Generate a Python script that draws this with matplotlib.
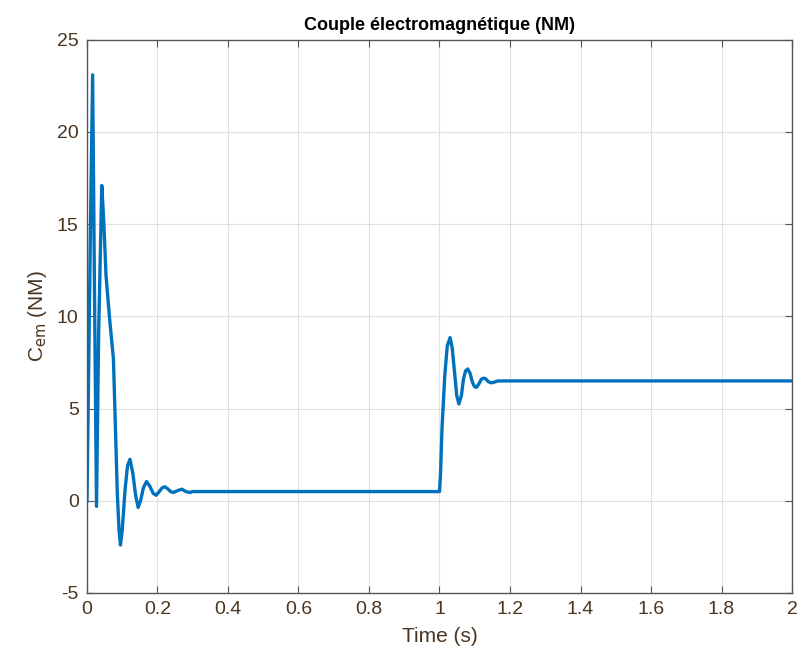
import numpy as np
import matplotlib.pyplot as plt

# Electromagnetic torque trace, key points
t = [0.0, 0.004, 0.010, 0.016, 0.021, 0.027, 0.033, 0.042, 0.048, 0.054, 0.065,
     0.075, 0.082, 0.086, 0.091, 0.095, 0.100, 0.108, 0.115, 0.122, 0.130, 0.138,
     0.145, 0.152, 0.160, 0.169, 0.178, 0.188, 0.196, 0.205, 0.213, 0.221, 0.229,
     0.237, 0.245, 0.257, 0.269, 0.280, 0.292, 0.30,
     1.0, 1.003, 1.007, 1.015, 1.022, 1.030, 1.036, 1.043, 1.049, 1.055, 1.062,
     1.068, 1.074, 1.080, 1.087, 1.093, 1.099, 1.105, 1.112, 1.119, 1.126, 1.132,
     1.139, 1.146, 1.153, 1.165, 2.0]
cem = [0.0, 6.0, 15.0, 23.1, 12.0, -0.3, 9.0, 17.1, 15.0, 12.2, 9.7,
       7.7, 3.1, 0.4, -1.6, -2.4, -1.6, 0.6, 1.9, 2.25, 1.5, 0.3,
       -0.36, 0.0, 0.7, 1.05, 0.8, 0.4, 0.3, 0.5, 0.7, 0.76, 0.65,
       0.5, 0.45, 0.55, 0.63, 0.5, 0.45, 0.5,
       0.5, 1.5, 3.9, 6.8, 8.4, 8.85, 8.3, 6.9, 5.7, 5.25, 5.7,
       6.6, 7.05, 7.15, 6.9, 6.45, 6.2, 6.15, 6.35, 6.6, 6.65, 6.6,
       6.45, 6.4, 6.42, 6.5, 6.5]

xticks = [0, 0.2, 0.4, 0.6, 0.8, 1, 1.2, 1.4, 1.6, 1.8, 2]
xticklabels = ['0', '0.2', '0.4', '0.6', '0.8', '1', '1.2', '1.4', '1.6', '1.8', '2']
yticks = [-5, 0, 5, 10, 15, 20, 25]

plt.rcParams['font.family'] = ['Liberation Sans', 'DejaVu Sans']
plt.rcParams['axes.unicode_minus'] = False
label_color = '#4a3520'

fig = plt.figure(figsize=(7.98, 6.63), dpi=100)
ax = fig.add_axes([0.109, 0.1056, 0.8835, 0.8344])

ax.plot(t, cem, color='#0072BD', linewidth=2.4)

ax.set_xlim(0, 2)
ax.set_ylim(-5, 25)
ax.set_xticks(xticks)
ax.set_xticklabels(xticklabels)
ax.set_yticks(yticks)
ax.grid(True, color='#e0e0e0', linewidth=0.8)
ax.set_axisbelow(True)

for s in ax.spines.values():
    s.set_color('#555555')
    s.set_linewidth(1.0)
ax.tick_params(direction='in', top=True, right=True, length=5, color='#555555',
               labelcolor=label_color, labelsize=14, pad=6)

ax.set_xlabel('Time (s)', fontsize=15, color=label_color, labelpad=6)
ax.set_ylabel(r'C$_{\mathrm{em}}$ (NM)', fontsize=15, color=label_color, labelpad=6)
ax.set_title('Couple électromagnétique (NM)', fontsize=13, fontweight='bold', pad=7)

fig.savefig('out.png', dpi=100)
